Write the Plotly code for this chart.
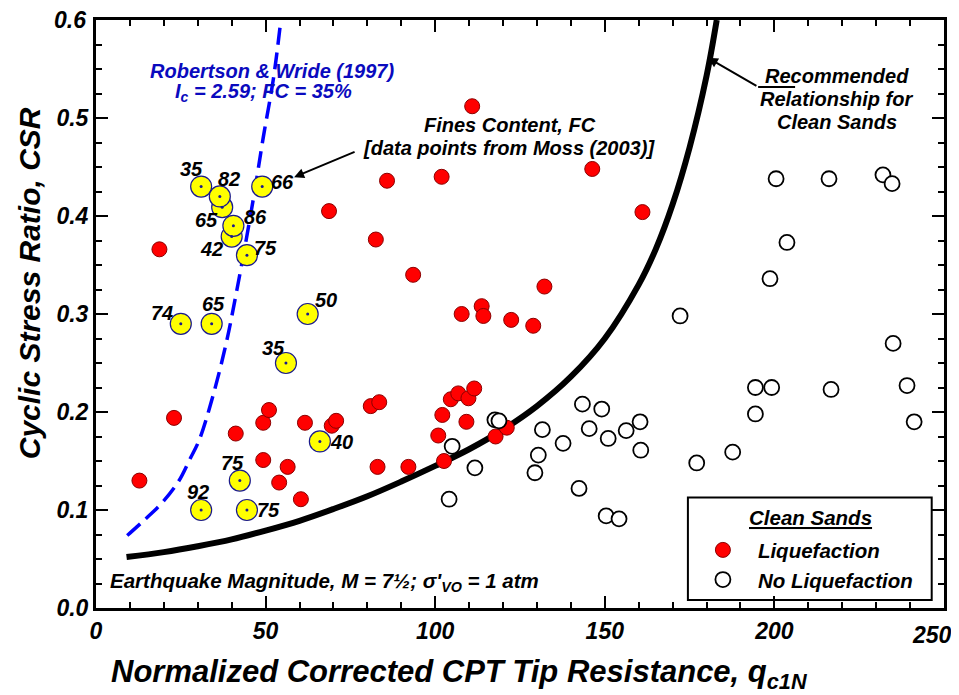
import plotly.graph_objects as go

# ---------------- data ----------------
liq_q = [12.8, 18.7, 23.0, 41.2, 49.3, 51.0, 49.3, 54.0, 56.5, 60.4, 61.6, 68.7, 69.5, 70.8,
         81.0, 83.5, 83.0, 92.1, 82.5, 85.8, 93.5, 101.9, 110.9, 146.3, 161.1, 107.8, 113.7,
         114.2, 122.4, 128.9, 132.2, 100.9, 102.1, 102.6, 104.6, 106.8, 109.2, 109.8, 111.5,
         117.8, 121.1]
liq_csr = [0.130, 0.366, 0.194, 0.178, 0.189, 0.202, 0.151, 0.128, 0.144, 0.111, 0.189, 0.405,
           0.186, 0.191, 0.206, 0.210, 0.144, 0.144, 0.376, 0.436, 0.340, 0.440, 0.512, 0.448,
           0.404, 0.300, 0.308, 0.298, 0.294, 0.288, 0.328, 0.176, 0.197, 0.150, 0.213, 0.219,
           0.190, 0.214, 0.224, 0.175, 0.184]

noliq_q = [104.1, 105.0, 111.7, 117.6, 118.8, 129.4, 130.4, 131.6, 137.7, 142.4, 143.4, 145.4,
           149.1, 150.4, 151.0, 154.2, 156.3, 160.4, 160.6, 172.2, 177.1, 187.7, 194.4, 194.4,
           199.2, 198.7, 200.5, 203.7, 216.1, 216.7, 232.0, 234.7, 235.0, 239.1, 241.2]
noliq_csr = [0.111, 0.165, 0.143, 0.192, 0.191, 0.138, 0.156, 0.182, 0.168, 0.122, 0.208, 0.183,
             0.203, 0.094, 0.173, 0.091, 0.181, 0.190, 0.161, 0.298, 0.148, 0.159, 0.198, 0.225,
             0.225, 0.336, 0.438, 0.373, 0.438, 0.223, 0.442, 0.433, 0.270, 0.227, 0.190]

fines_q = [31.0, 37.2, 36.5, 40.0, 40.5, 49.0, 44.5, 25.0, 34.1, 62.4, 56.0, 66.0, 42.4, 31.0, 44.5]
fines_csr = [0.430, 0.409, 0.420, 0.379, 0.390, 0.430, 0.360, 0.290, 0.290, 0.300, 0.250, 0.170,
             0.130, 0.100, 0.100]
fines_fc = ["35", "65", "82", "42", "86", "66", "75", "74", "65", "50", "35", "40", "75", "92", "75"]

# clean-sand boundary curve
curve_q = [9, 20, 30, 40, 50, 60, 70, 80, 90, 100, 110, 120, 130, 140, 150, 160, 165, 170, 175, 180, 183]
curve_csr = [0.052, 0.057, 0.063, 0.070, 0.079, 0.089, 0.101, 0.114, 0.129, 0.145, 0.162, 0.182,
             0.206, 0.236, 0.275, 0.330, 0.366, 0.412, 0.470, 0.543, 0.600]

# Robertson & Wride (1997) Ic = 2.59 curve (blue dashed)
rw_q = [9.2, 14.0, 19.4, 24.3, 27.7, 30.5, 34.6, 38.5, 41.5, 44.4, 46.9, 49.3, 52.3, 54.5]
rw_csr = [0.074, 0.089, 0.107, 0.129, 0.152, 0.172, 0.218, 0.272, 0.324, 0.378, 0.428, 0.480,
          0.540, 0.600]

x_ticks = [0, 50, 100, 150, 200, 250]
y_ticks = [0.0, 0.1, 0.2, 0.3, 0.4, 0.5, 0.6]

# label offsets (pixels) for the FC labels, same order as fines arrays
fc_dx = [-10, -16, 9, -20, 22, 20, 19, -19, 2, 18, -12, 22, -7, -3, 22]
fc_dy = [18, -13, 17, -12, 9, 5, 7, 11, 20, 14, 15, -1, 18, 18, 0]

FONT = "Liberation Sans, Arial, sans-serif"


def bi(size, color="black"):
    return dict(family=FONT, size=size, color=color, weight="bold", style="italic")


fig = go.Figure()

fig.add_trace(go.Scatter(x=rw_q, y=rw_csr, mode="lines", line_shape="spline",
                         line=dict(color="#0000FF", width=3.5, dash="17px,8px"),
                         showlegend=False, hoverinfo="skip"))
fig.add_trace(go.Scatter(x=curve_q, y=curve_csr, mode="lines", line_shape="spline",
                         line=dict(color="black", width=6), showlegend=False, hoverinfo="skip"))

fig.add_trace(go.Scatter(x=liq_q, y=liq_csr, mode="markers", name="Liquefaction",
                         marker=dict(size=15, color="#FF0000", line=dict(color="#8B0000", width=1))))
fig.add_trace(go.Scatter(x=noliq_q, y=noliq_csr, mode="markers", name="No Liquefaction",
                         marker=dict(size=15, color="white", line=dict(color="black", width=1.8))))
fig.add_trace(go.Scatter(x=fines_q, y=fines_csr, mode="markers", showlegend=False,
                         marker=dict(size=21, color="#FFFF00", line=dict(color="#1A1A8C", width=1.2))))
fig.add_trace(go.Scatter(x=fines_q, y=fines_csr, mode="markers", showlegend=False, hoverinfo="skip",
                         marker=dict(size=3, color="#1A1A8C")))

annotations = []
for q, c, t, dx, dy in zip(fines_q, fines_csr, fines_fc, fc_dx, fc_dy):
    annotations.append(dict(x=q, y=c, text=t, showarrow=False, xshift=dx, yshift=dy,
                            font=bi(20)))

annotations += [
    dict(x=51.9, y=0.548, text="Robertson & Wride (1997)", showarrow=False, font=bi(20, "#0A0ABE")),
    dict(x=49.5, y=0.526, text="I<sub>c</sub> = 2.59; FC = 35%", showarrow=False, font=bi(20, "#0A0ABE")),
    dict(x=122.1, y=0.493, text="Fines Content, FC", showarrow=False, font=bi(20)),
    dict(x=121.9, y=0.469, text="[data points from Moss (2003)]", showarrow=False, font=bi(20)),
    dict(x=218.4, y=0.543, text="Recommended", showarrow=False, font=bi(20)),
    dict(x=218.4, y=0.519, text="Relationship for", showarrow=False, font=bi(20)),
    dict(x=218.4, y=0.496, text="Clean Sands", showarrow=False, font=bi(20)),
    dict(x=3.5, y=0.027, xanchor="left", showarrow=False, font=bi(20.5),
         text="Earthquake Magnitude, M = 7½; σ'<sub>VO</sub> = 1 atm"),
    dict(x=58.4, y=0.4396, text="", showarrow=True, ax=62, ay=-26, arrowhead=2, arrowsize=1,
         arrowwidth=2, arrowcolor="black"),
    dict(x=180.4, y=0.5614, text="", showarrow=True, ax=50, ay=29, arrowhead=2, arrowsize=1,
         arrowwidth=2, arrowcolor="black"),
    dict(xref="paper", yref="paper", x=0.429, y=-0.112, xanchor="center", yanchor="middle",
         showarrow=False, font=bi(31),
         text="Normalized Corrected CPT Tip Resistance, q<sub>c1N</sub>"),
    dict(xref="paper", yref="paper", x=-0.078, y=0.552, xanchor="center", yanchor="middle",
         showarrow=False, font=bi(30), textangle=-90, text="Cyclic Stress Ratio, CSR"),
    dict(xref="paper", yref="paper", x=0.842, y=0.154, xanchor="center", yanchor="middle",
         showarrow=False, font=bi(20.5), text="<u>Clean Sands</u>"),
    # edge tick labels drawn as text so they stay inside the page
    dict(xref="x", yref="paper", x=x_ticks[-1], y=0, xanchor="right", yanchor="top", xshift=10,
         yshift=-12, showarrow=False, font=bi(23), text=str(x_ticks[-1])),
    dict(xref="paper", yref="y", x=0, y=y_ticks[-1], xanchor="right", yanchor="middle", xshift=-8,
         showarrow=False, font=bi(23), text=f"{y_ticks[-1]:.1f}"),
]

axis_common = dict(showgrid=False, zeroline=False, showline=True, linewidth=3, linecolor="black",
                   mirror="ticks", ticks="inside", ticklen=12, tickwidth=1.5, tickcolor="black",
                   tickfont=bi(23))

fig.update_layout(
    width=951, height=687,
    margin=dict(l=88, r=15, t=9, b=87),
    paper_bgcolor="white", plot_bgcolor="white",
    xaxis=dict(range=[0, 250], tickvals=x_ticks, ticktext=[str(v) for v in x_ticks[:-1]] + [""],
               minor=dict(dtick=10, ticks="inside", ticklen=6, tickwidth=1.5, tickcolor="black"),
               **axis_common),
    yaxis=dict(range=[0, 0.6], tickvals=y_ticks, ticktext=[f"{v:.1f}" for v in y_ticks[:-1]] + [""],
               minor=dict(dtick=0.025, ticks="inside", ticklen=6, tickwidth=1.5, tickcolor="black"),
               **axis_common),
    annotations=annotations,
    shapes=[
        dict(type="line", xref="x", yref="y", x0=195.2, x1=206.1, y0=0.5317, y1=0.5317,
             line=dict(color="black", width=2)),
        dict(type="rect", xref="paper", yref="paper", x0=0.698, x1=0.9855, y0=0.0135, y1=0.1878,
             line=dict(color="black", width=2), fillcolor="white", layer="below"),
    ],
    showlegend=True,
    legend=dict(x=0.698, y=0.0135, xanchor="left", yanchor="bottom",
                bgcolor="rgba(0,0,0,0)", borderwidth=0,
                font=bi(20.5), itemwidth=60, tracegroupgap=0),
)

fig.write_html("out.html")
